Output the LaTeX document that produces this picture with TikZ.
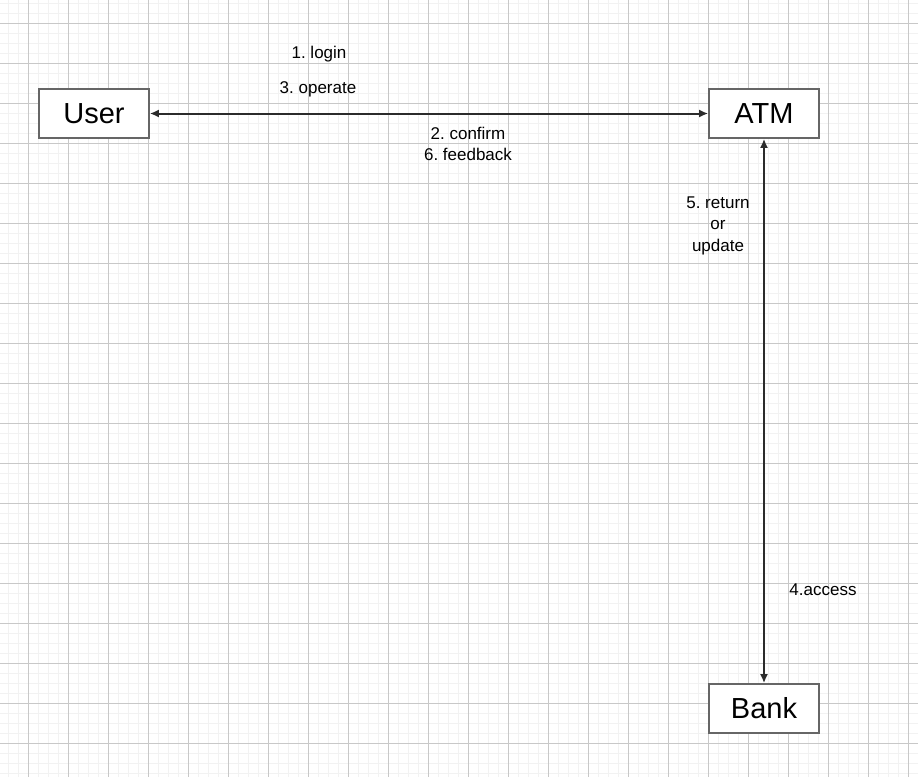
\documentclass[tikz,border=0pt]{standalone}
\usepackage{fontspec}
\setmainfont{Liberation Sans}
\usetikzlibrary{arrows.meta}
\definecolor{boxline}{HTML}{666666}
\definecolor{arrowline}{HTML}{2B2B2B}
\definecolor{minorline}{HTML}{F2F2F2}
\definecolor{majorline}{HTML}{C8C8C8}
\tikzset{
  entity/.style={draw=boxline, line width=1.7pt, fill=white, minimum width=110pt,
    minimum height=49pt, inner sep=0pt, font=\fontsize{29}{34}\selectfont},
  msg/.style={inner sep=0pt, align=center, font=\fontsize{17}{21.5}\selectfont},
  link/.style={draw=arrowline, line width=2pt, {Latex[length=9pt,width=8pt]}-{Latex[length=9pt,width=8pt]}}
}
\frenchspacing
\begin{document}
\begin{tikzpicture}[x=1pt, y=-1pt]
  \useasboundingbox (0,0) rectangle (918,777);
  % background grid
  \foreach \gx in {8.5,18.5,...,908.5} \draw[minorline, line width=1.4pt] (\gx,0) -- (\gx,777);
  \foreach \gy in {3.5,13.5,...,773.5} \draw[minorline, line width=1.4pt] (0,\gy) -- (918,\gy);
  \foreach \gx in {28.5,68.5,...,908.5} \draw[majorline, line width=1pt] (\gx,0) -- (\gx,777);
  \foreach \gy in {23.5,63.5,...,743.5} \draw[majorline, line width=1pt] (0,\gy) -- (918,\gy);
  \draw
    (94,113.5) node[entity] (user){User}
    (764,113.5) node[entity] (atm){ATM}
    (764,708.5) node[entity] (bank){Bank};
  \begin{scope}[link]
    \draw (user) to (atm);
    \draw (atm) to (bank);
  \end{scope}
  % message labels, placed at their (last) baselines
  \node[msg, anchor=base] (login) at (319,58.3) {1. login};
  \node[msg, anchor=base] (operate) at (318,93.3) {3. operate};
  \node[msg, anchor=base, font=\fontsize{17}{20.8}\selectfont] (confirm) at (468,160) {2. confirm\\6. feedback};
  \node[msg, anchor=base] (result) at (718,251) {5. return\\or\\update};
  \node[msg, anchor=base] (access) at (823,595) {4.access};
\end{tikzpicture}
\end{document}
